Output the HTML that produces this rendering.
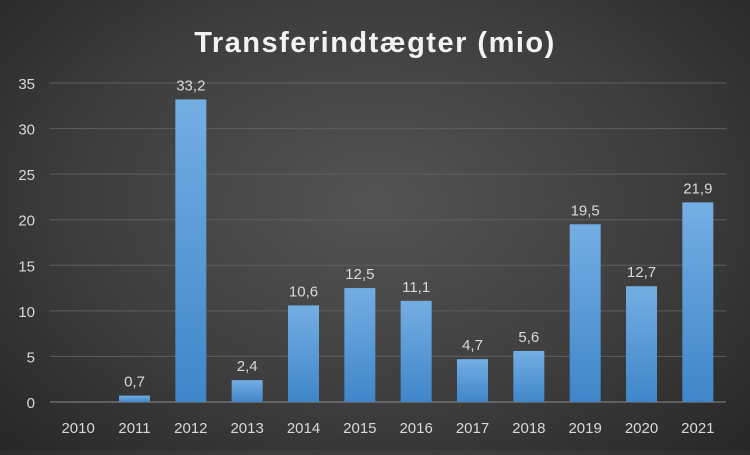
<!DOCTYPE html>
<html><head><meta charset="utf-8"><style>
html,body{margin:0;padding:0;}
body{width:750px;height:450px;overflow:hidden;background:radial-gradient(ellipse 70% 80% at 50% 45%,#545454 0%,#3e3e3e 55%,#262626 100%);font-family:"Liberation Sans",sans-serif;}
</style></head><body>
<svg id="chart" width="750" height="450" xmlns="http://www.w3.org/2000/svg">
<defs><linearGradient id="bg" x1="0" y1="0" x2="0" y2="1"><stop offset="0" stop-color="#74aee3"/><stop offset="1" stop-color="#3f86c9"/></linearGradient></defs>
<text x="375" y="52" text-anchor="middle" fill="#f2f2f2" font-size="29" font-weight="bold" letter-spacing="1.5">Transferindtægter (mio)</text>
<g id="grid"></g><g id="bars"></g><g id="labels"></g>
</svg>
<script>
const categories=["2010","2011","2012","2013","2014","2015","2016","2017","2018","2019","2020","2021"];
const values=[0,0.7,33.2,2.4,10.6,12.5,11.1,4.7,5.6,19.5,12.7,21.9];
const valueLabels=["","0,7","33,2","2,4","10,6","12,5","11,1","4,7","5,6","19,5","12,7","21,9"];
const yTicks=[0,5,10,15,20,25,30,35];
const NS="http://www.w3.org/2000/svg";
const x0=50,x1=726,yBase=402,yTop=83,yMax=35;
const step=(x1-x0)/categories.length;
const xC=i=>x0+step*(i+0.5);
const yS=v=>yBase-(v/yMax)*(yBase-yTop);
function mk(t,a,p){const e=document.createElementNS(NS,t);for(const k in a)e.setAttribute(k,a[k]);p.appendChild(e);return e;}
const grid=document.getElementById('grid'),bars=document.getElementById('bars'),labels=document.getElementById('labels');
yTicks.forEach(t=>{
 const l=mk('line',{x1:x0,x2:x1,y1:yS(t),y2:yS(t),stroke:t===0?'#8a8a8a':'#5e5e5e','stroke-width':1},grid);
 
 
 const tx=mk('text',{x:35,y:yS(t)+6,'text-anchor':'end',fill:'#d9d9d9','font-size':15},labels);
 tx.textContent=t;
 
 
});
categories.forEach((c,i)=>{
 const w=31,v=values[i];
 const r=mk('rect',{x:xC(i)-w/2,y:yS(v),width:w,height:yBase-yS(v),fill:'url(#bg)'},bars);
 
 
 const t=mk('text',{x:xC(i),y:yBase+31,'text-anchor':'middle',fill:'#d9d9d9','font-size':15},labels);
 t.textContent=c;
 
 
 if(valueLabels[i]){
  const d=mk('text',{x:xC(i),y:yS(v)-9,'text-anchor':'middle',fill:'#d9d9d9','font-size':15},labels);
  d.textContent=valueLabels[i];
  
  
 }
});
</script>
</body></html>
